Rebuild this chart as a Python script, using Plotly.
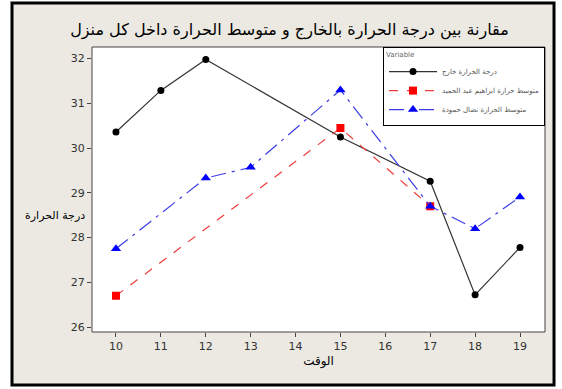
import plotly.graph_objects as go

# Hourly temperature readings
hours = [10, 11, 12, 13, 14, 15, 16, 17, 18, 19]
outside_temp = [30.36, 31.29, 31.98, None, None, 30.25, None, 29.26, 26.72, 27.78]
house_a_temp = [26.70, None, None, None, None, 30.45, None, 28.70, None, None]
house_b_temp = [27.75, None, 29.33, 29.57, None, 31.30, None, 28.70, 28.20, 28.91]

series_names = [
    "درجة الحرارة خارج",
    "متوسط حرارة ابراهيم عبد الحميد",
    "متوسط الحرارة نضال حمودة",
]
y_ticks = [26, 27, 28, 29, 30, 31, 32]

title_text = "مقارنة بين درجة الحرارة بالخارج و متوسط الحرارة داخل كل منزل"
x_title = "الوقت"
y_title = "درجة الحرارة"

FONT = "DejaVu Sans"
BEIGE = "#ECE9E2"

fig = go.Figure()

fig.add_trace(go.Scatter(
    x=hours, y=outside_temp, name=series_names[0], mode="lines+markers",
    connectgaps=True,
    line=dict(color="#333333", width=1.2, dash="solid"),
    marker=dict(symbol="circle", size=7, color="black"),
))
fig.add_trace(go.Scatter(
    x=hours, y=house_a_temp, name=series_names[1], mode="lines+markers",
    connectgaps=True,
    line=dict(color="#F03C3C", width=1.2, dash="dash"),
    marker=dict(symbol="square", size=8, color="#FF0000"),
))
fig.add_trace(go.Scatter(
    x=hours, y=house_b_temp, name=series_names[2], mode="lines+markers",
    connectgaps=True,
    line=dict(color="#3C3CE6", width=1.2, dash="longdashdot"),
    marker=dict(symbol="triangle-up", size=9, color="#0000FF"),
))

# Outer beige panel with black border, then the white data region
fig.add_shape(type="rect", xref="paper", yref="paper",
              x0=-0.1766, x1=1.0199, y0=-0.186, y1=1.1544,
              fillcolor=BEIGE, line=dict(color="black", width=3), layer="below")
fig.add_shape(type="rect", xref="paper", yref="paper",
              x0=0, x1=1, y0=0, y1=1,
              fillcolor="white", line=dict(color="#444444", width=1), layer="below")

fig.add_annotation(text=y_title, xref="paper", yref="paper",
                   x=-0.01, y=0.41, xanchor="right", yanchor="middle",
                   showarrow=False, font=dict(family=FONT, size=11, color="black"))

fig.update_layout(
    width=562, height=389,
    margin=dict(l=92, r=17, t=47, b=57),
    paper_bgcolor="white",
    plot_bgcolor="rgba(0,0,0,0)",
    font=dict(family=FONT, color="#222222"),
    title=dict(text=title_text, x=0.515, xanchor="center", y=0.925, yanchor="middle",
               font=dict(family=FONT, size=16, color="black")),
    xaxis=dict(
        range=[9.466, 19.557], tickmode="array", tickvals=hours,
        ticks="outside", ticklen=4, tickcolor="#444444",
        showgrid=False, zeroline=False, showline=False,
        tickfont=dict(family=FONT, size=11, color="#333333"),
        title=dict(text=x_title, font=dict(family=FONT, size=12, color="black"), standoff=4),
    ),
    yaxis=dict(
        range=[25.89, 32.26], tickmode="array", tickvals=y_ticks,
        ticks="outside", ticklen=4, tickcolor="#444444",
        showgrid=False, zeroline=False, showline=False,
        tickfont=dict(family=FONT, size=11, color="#333333"),
    ),
    legend=dict(
        x=1, y=1, xanchor="right", yanchor="top",
        bgcolor="white", bordercolor="black", borderwidth=1,
        title=dict(text="Variable", font=dict(family=FONT, size=7, color="#666666")),
        font=dict(family=FONT, size=7, color="#555555"),
        itemwidth=48, tracegroupgap=0,
    ),
)

fig.write_html("out.html")
